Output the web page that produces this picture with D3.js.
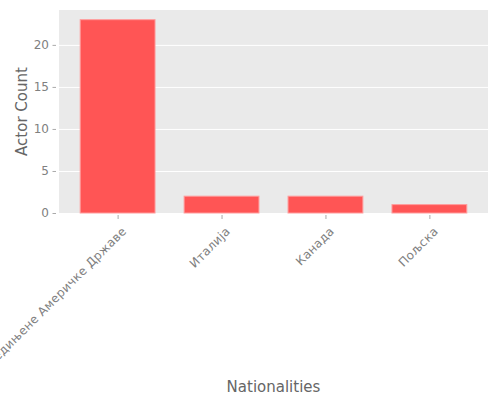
<!DOCTYPE html>
<html>
<head>
<meta charset="utf-8">
<script src="https://cdn.jsdelivr.net/npm/d3@7"></script>
<style>
  body { margin: 0; background: #fff; }
  svg { display: block; font-family: "DejaVu Sans", sans-serif; }
</style>
</head>
<body>
<svg id="chart"></svg>
<script>
// chart data
var nationalities = ['Сједињене Америчке Државе', 'Италија', 'Канада', 'Пољска'];
var actorCounts = [23, 2, 2, 1];
var yTicks = [0, 5, 10, 15, 20];

var width = 500,
    height = 400,
    margin = { top: 10, right: 12, bottom: 187, left: 59 };
var plotW = width - margin.left - margin.right,
    plotH = height - margin.top - margin.bottom;

var svg = d3.select('#chart')
    .attr('width', width)
    .attr('height', height);

var g = svg.append('g')
    .attr('transform', 'translate(' + margin.left + ',' + margin.top + ')');

// index scale like matplotlib's categorical axis
var x = d3.scaleLinear()
    .domain([-0.564, nationalities.length - 1 + 0.564])
    .range([0, plotW]);
var barWidth = 0.72;

var y = d3.scaleLinear()
    .domain([0, d3.max(actorCounts) * 1.05])
    .range([plotH, 0]);

g.append('rect')
    .attr('width', plotW)
    .attr('height', plotH)
    .attr('fill', '#EAEAEA');

// grid
g.selectAll('.grid')
    .data(yTicks)
    .enter().append('line')
    .attr('x1', 0)
    .attr('x2', plotW)
    .attr('y1', function(d) { return y(d) + 0.5; })
    .attr('y2', function(d) { return y(d) + 0.5; })
    .attr('stroke', '#fff')
    .attr('stroke-width', 1);

// bars
g.selectAll('.bar')
    .data(actorCounts)
    .enter().append('rect')
    .attr('x', function(d, i) { return x(i - barWidth / 2); })
    .attr('width', x(barWidth) - x(0))
    .attr('y', function(d) { return y(d); })
    .attr('height', function(d) { return plotH - y(d); })
    .attr('fill', '#FF5555')
    .attr('stroke', '#FF9C9C')
    .attr('stroke-width', 1);

// y axis
var yAxis = g.append('g')
    .call(d3.axisLeft(y).tickValues(yTicks).tickSize(3.5).tickPadding(4));
yAxis.select('.domain').remove();
yAxis.selectAll('line').attr('stroke', '#aaa').attr('transform', 'translate(-3,0)');
yAxis.selectAll('text')
    .attr('fill', '#808080')
    .attr('font-size', 12)
    .attr('x', -10)
    .attr('font-family', '"DejaVu Sans", sans-serif');

// x axis
var xAxis = g.append('g')
    .attr('transform', 'translate(0,' + plotH + ')')
    .call(d3.axisBottom(x)
        .tickValues(d3.range(nationalities.length))
        .tickFormat(function(i) { return nationalities[i]; })
        .tickSize(4));
xAxis.select('.domain').remove();
xAxis.selectAll('line').attr('stroke', '#aaa').attr('transform', 'translate(0,2)');
xAxis.selectAll('text')
    .attr('fill', '#808080')
    .attr('font-size', 12)
    .attr('letter-spacing', 0.3)
    .attr('font-family', '"DejaVu Sans", sans-serif')
    .attr('text-anchor', 'end')
    .attr('y', 0)
    .attr('dy', 0)
    .attr('transform', 'translate(9,19) rotate(-45)');

// axis titles
svg.append('text')
    .attr('x', margin.left + plotW / 2)
    .attr('y', 392)
    .attr('text-anchor', 'middle')
    .attr('fill', '#666')
    .attr('font-size', 15)
    .text('Nationalities');

svg.append('text')
    .attr('transform', 'translate(27,' + (margin.top + plotH / 2) + ') rotate(-90)')
    .attr('text-anchor', 'middle')
    .attr('fill', '#666')
    .attr('font-size', 15)
    .text('Actor Count');
</script>
</body>
</html>
